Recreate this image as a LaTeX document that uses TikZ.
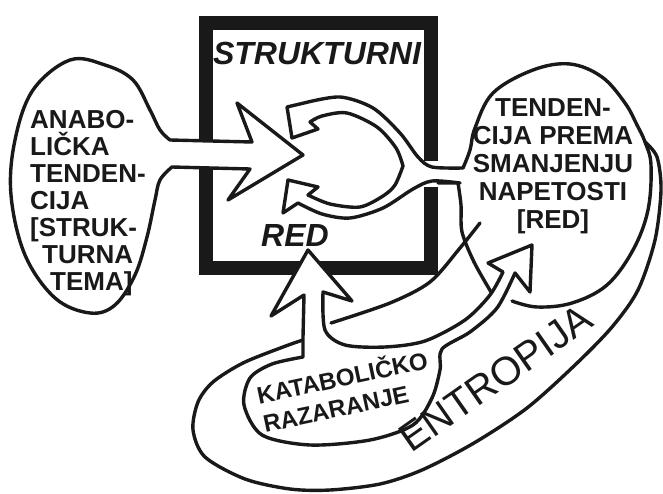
\documentclass[tikz,border=0pt]{standalone}
\usepackage{fontspec}
\setmainfont{Liberation Sans}
\usetikzlibrary{calc}

\begin{document}
\begin{tikzpicture}[
    x=1pt, y=-1pt,
    line join=round, line cap=round,
    outline/.style={
        draw=black!90, line width=3.4pt
    },
    whitepatch/.style={
        outline, fill=white
    },
    boxbar/.style={
        draw=black!90, line width=14pt, line cap=butt, line join=miter
    },
    letters/.style={
        inner sep=0pt, text=black!90, font=\bfseries\fontsize{26}{27}\selectfont
    }
]
    \useasboundingbox (0,0) rectangle (663,494);

    % --- BOX ---
    \draw [boxbar] (206,140) -- (206,23) -- (431,23) -- (431,161);
    \draw [boxbar] (431,187) -- (431,268) -- (206,268) -- (206,167);

    % --- LEFT BUBBLE AND ARROW ---
    \filldraw [whitepatch] (170,140) -- (252,142) -- (237,103) -- (303,155) -- (228,200) -- (250,169)
        -- plot[smooth, tension=0.6] coordinates {(172,167) (160,180) (155,200) (147,237) (135,275)
        (115,305) (90,313) (55,298) (25,255) (11,195) (15,140) (33,90) (70,60) (105,65) (133,80)
        (150,110) (160,130) (170,140)} -- cycle;

    % --- RIGHT BUBBLE ---
    \draw [outline] plot[smooth, tension=0.6] coordinates {(463,168) (470,150) (475,128) (493,93)
        (533,70) (570,64) (602,77) (625,103) (637,125) (645,142) (651,165) (648,210) (633,250)
        (607,285) (572,303) (537,307) (512,301)};
    \draw [outline] (438,183) -- plot[smooth] coordinates {(458,183) (461,205) (462,232) (474,262) (491,292)};

    % --- LOOP ARROWS IN THE BOX ---
    \draw [outline] plot[smooth] coordinates {(463,168) (432,167) (418,157) (400,133) (373,108)
        (340,97) (304,103)} -- (287,107) -- (292,138) -- (318,129) -- (310,122)
        -- plot[smooth] coordinates {(310,122) (322,116) (347,113) (377,127) (396,148) (403,166)};
    \draw [outline] plot[smooth] coordinates {(403,166) (395,185) (383,196) (360,207) (330,204)
        (308,195)} -- (318,187) -- (288,180) -- (283,213) -- (298,203)
        -- plot[smooth] coordinates {(298,203) (322,214) (350,218) (383,208) (413,189) (432,181) (460,183)};

    % --- ENTROPY LOOP ---
    \draw [outline] plot[smooth] coordinates {(645,142) (657,157) (661,190) (655,240) (638,290)
        (612,327) (575,365) (527,408) (474,443) (422,470) (380,484) (330,490) (290,489) (245,479)
        (205,457) (193,430) (198,402) (213,382) (243,363) (283,347) (303,340)};

    % --- FORKED ARROW ---
    \filldraw [whitepatch] (303,357) -- (303,337) -- (304,295) -- (271,316) -- (308,250) -- (352,301) -- (323,292)
        -- plot[smooth] coordinates {(323,292) (325,330) (345,345) (385,347) (425,341) (465,320)
        (490,295) (503,272)} -- (488,263) -- (532,245) -- (530,292) -- (515,273)
        -- plot[smooth] coordinates {(515,273) (497,308) (470,332) (442,349) (440,370) (432,398)
        (413,425) (370,440) (310,445) (262,435) (244,405) (250,378) (272,364) (303,357)} -- cycle;
    \draw [outline] plot[smooth] coordinates {(331,323) (390,303) (430,282) (460,248) (480,223)};

    % --- TEXTS ---
    \node [letters, font=\bfseries\itshape\fontsize{32}{34}\selectfont] (strukturni) at (317,53) {STRUKTURNI};
    \node [letters, font=\bfseries\itshape\fontsize{32}{34}\selectfont] (red) at (295,235) {RED};
    \node [letters, align=left] (anabolicka) at (88,203)
        {ANABO-\\LIČKA\\TENDEN-\\CIJA\\{[}STRUK-\\\hspace*{12pt}TURNA\\\hspace*{20pt}TEMA{]}};
    \node [letters, align=center, font=\bfseries\fontsize{26}{28}\selectfont] (tendencija) at (553,166)
        {TENDEN-\\CIJA PREMA\\SMANJENJU\\NAPETOSTI\\{[}RED{]}};
    \node [letters, align=left, rotate=12, font=\bfseries\fontsize{24}{29}\selectfont] (katabolicko) at (345,390)
        {KATABOLIČKO\\RAZARANJE};
    \node [letters, rotate=35, font=\fontsize{40}{42}\selectfont] (entropija) at (496,378) {ENTROPIJA};

\end{tikzpicture}
\end{document}
